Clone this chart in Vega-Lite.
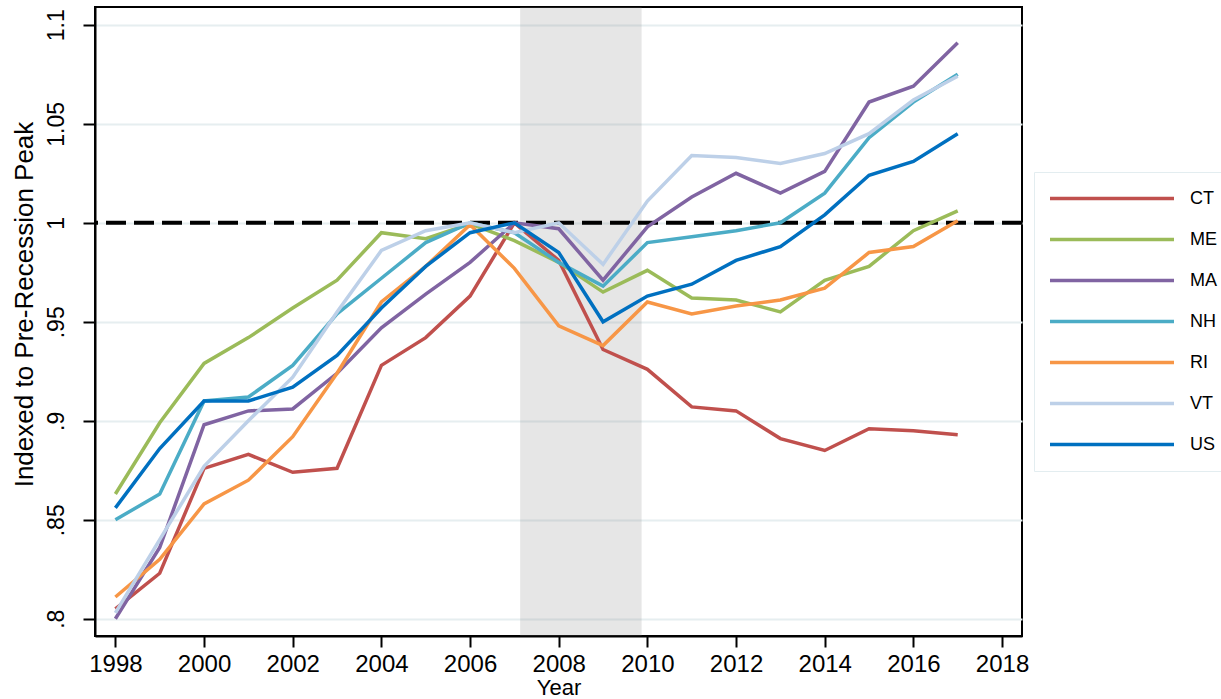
{
  "$schema": "https://vega.github.io/schema/vega-lite/v6.json",
  "width": 927,
  "height": 629,
  "autosize": {"type": "none"},
  "padding": {"left": 95, "top": 7, "right": 199, "bottom": 63},
  "background": "white",
  "config": {"view": {"stroke": "black", "strokeWidth": 2}, "font": "Liberation Sans"},
  "datasets": {
    "emp": [
      {"year": 1998, "CT": 0.805, "ME": 0.863, "MA": 0.800, "NH": 0.850, "RI": 0.811, "VT": 0.803, "US": 0.856},
      {"year": 1999, "CT": 0.823, "ME": 0.899, "MA": 0.836, "NH": 0.863, "RI": 0.830, "VT": 0.840, "US": 0.886},
      {"year": 2000, "CT": 0.876, "ME": 0.929, "MA": 0.898, "NH": 0.910, "RI": 0.858, "VT": 0.877, "US": 0.910},
      {"year": 2001, "CT": 0.883, "ME": 0.942, "MA": 0.905, "NH": 0.912, "RI": 0.870, "VT": 0.900, "US": 0.910},
      {"year": 2002, "CT": 0.874, "ME": 0.957, "MA": 0.906, "NH": 0.928, "RI": 0.892, "VT": 0.922, "US": 0.917},
      {"year": 2003, "CT": 0.876, "ME": 0.971, "MA": 0.924, "NH": 0.954, "RI": 0.924, "VT": 0.955, "US": 0.933},
      {"year": 2004, "CT": 0.928, "ME": 0.995, "MA": 0.947, "NH": 0.972, "RI": 0.960, "VT": 0.986, "US": 0.957},
      {"year": 2005, "CT": 0.942, "ME": 0.992, "MA": 0.964, "NH": 0.990, "RI": 0.978, "VT": 0.996, "US": 0.978},
      {"year": 2006, "CT": 0.963, "ME": 0.9995, "MA": 0.980, "NH": 1.000, "RI": 0.999, "VT": 1.000, "US": 0.995},
      {"year": 2007, "CT": 1.000, "ME": 0.991, "MA": 1.000, "NH": 0.995, "RI": 0.977, "VT": 0.995, "US": 1.000},
      {"year": 2008, "CT": 0.981, "ME": 0.980, "MA": 0.997, "NH": 0.980, "RI": 0.948, "VT": 1.000, "US": 0.985},
      {"year": 2009, "CT": 0.936, "ME": 0.965, "MA": 0.971, "NH": 0.968, "RI": 0.938, "VT": 0.979, "US": 0.950},
      {"year": 2010, "CT": 0.926, "ME": 0.976, "MA": 0.998, "NH": 0.990, "RI": 0.960, "VT": 1.011, "US": 0.963},
      {"year": 2011, "CT": 0.907, "ME": 0.962, "MA": 1.013, "NH": 0.993, "RI": 0.954, "VT": 1.034, "US": 0.969},
      {"year": 2012, "CT": 0.905, "ME": 0.961, "MA": 1.025, "NH": 0.996, "RI": 0.958, "VT": 1.033, "US": 0.981},
      {"year": 2013, "CT": 0.891, "ME": 0.955, "MA": 1.015, "NH": 1.000, "RI": 0.961, "VT": 1.030, "US": 0.988},
      {"year": 2014, "CT": 0.885, "ME": 0.971, "MA": 1.026, "NH": 1.015, "RI": 0.967, "VT": 1.035, "US": 1.004},
      {"year": 2015, "CT": 0.896, "ME": 0.978, "MA": 1.061, "NH": 1.043, "RI": 0.985, "VT": 1.045, "US": 1.024},
      {"year": 2016, "CT": 0.895, "ME": 0.996, "MA": 1.069, "NH": 1.061, "RI": 0.988, "VT": 1.062, "US": 1.031},
      {"year": 2017, "CT": 0.893, "ME": 1.006, "MA": 1.091, "NH": 1.075, "RI": 1.001, "VT": 1.074, "US": 1.045}
    ]
  },
  "layer": [
    {
      "data": {"values": [{"start": 2007.13, "end": 2009.87}]},
      "mark": {"type": "rect", "color": "#808080", "opacity": 0.2},
      "encoding": {
        "x": {"field": "start", "type": "quantitative", "title": "Year", "scale": {"domain": [1997.54, 2018.45], "nice": false, "zero": false}},
        "x2": {"field": "end"}
      }
    },
    {
      "data": {"values": [{"ref": 1}]},
      "mark": {"type": "rule", "strokeDash": [20, 8], "strokeWidth": 4, "color": "black"},
      "encoding": {
        "y": {"field": "ref", "type": "quantitative", "title": "Indexed to Pre-Recession Peak", "scale": {"domain": [0.7913, 1.109], "nice": false, "zero": false}}
      }
    },
    {
      "data": {"name": "emp"},
      "transform": [{"fold": ["CT", "ME", "MA", "NH", "RI", "VT", "US"], "as": ["state", "value"]}],
      "mark": {"type": "line", "strokeWidth": 3.5},
      "encoding": {
        "x": {
          "field": "year", "type": "quantitative", "title": "Year",
          "scale": {"domain": [1997.54, 2018.45], "nice": false, "zero": false},
          "axis": {
            "values": [1998, 2000, 2002, 2004, 2006, 2008, 2010, 2012, 2014, 2016, 2018],
            "format": "d", "labelFontSize": 24, "labelColor": "black", "labelPadding": 5, "labelFlush": false, "labelOverlap": false,
            "tickSize": 11, "tickColor": "black", "tickWidth": 2,
            "domainColor": "black", "domainWidth": 2, "grid": false,
            "titleFontSize": 22, "titleFontWeight": "normal", "titleColor": "black", "titleY": 41.5, "titleBaseline": "top"
          }
        },
        "y": {
          "field": "value", "type": "quantitative", "title": "Indexed to Pre-Recession Peak",
          "scale": {"domain": [0.7913, 1.109], "nice": false, "zero": false},
          "axis": {
            "values": [0.8, 0.85, 0.9, 0.95, 1, 1.05, 1.1],
            "labelExpr": "datum.value < 1 ? replace(format(datum.value, '.2~f'), '0.', '.') : format(datum.value, '.2~f')",
            "labelAngle": -90, "labelAlign": "center", "labelBaseline": "bottom", "labelFontSize": 23, "labelColor": "black",
            "labelPadding": 14.7, "labelFlush": false, "labelOverlap": false,
            "tickSize": 12, "tickColor": "black", "tickWidth": 2,
            "domainColor": "black", "domainWidth": 2,
            "grid": true, "gridColor": "#e6eef0", "gridWidth": 2,
            "titleFontSize": 26, "titleFontWeight": "normal", "titleColor": "black",
            "titleX": -57.5, "titleY": 297, "titleAngle": -90, "titleBaseline": "bottom", "titleAlign": "center"
          }
        },
        "color": {
          "field": "state", "type": "nominal", "sort": ["CT", "ME", "MA", "NH", "RI", "VT", "US"],
          "scale": {"domain": ["CT", "ME", "MA", "NH", "RI", "VT", "US"], "range": ["#c0504d", "#9bbb59", "#8064a2", "#4bacc6", "#f79646", "#bdd0e8", "#0070c0"]},
          "legend": {
            "orient": "none", "legendX": 939, "legendY": 165, "title": null,
            "symbolType": "stroke", "symbolSize": 15376, "symbolStrokeWidth": 3.5,
            "clipHeight": 41, "rowPadding": 0, "symbolOffset": 8,
            "labelFontSize": 18, "labelColor": "black", "labelOffset": 14,
            "padding": 6, "strokeColor": "#e3edf0", "fillColor": "white"
          }
        }
      }
    }
  ]
}
